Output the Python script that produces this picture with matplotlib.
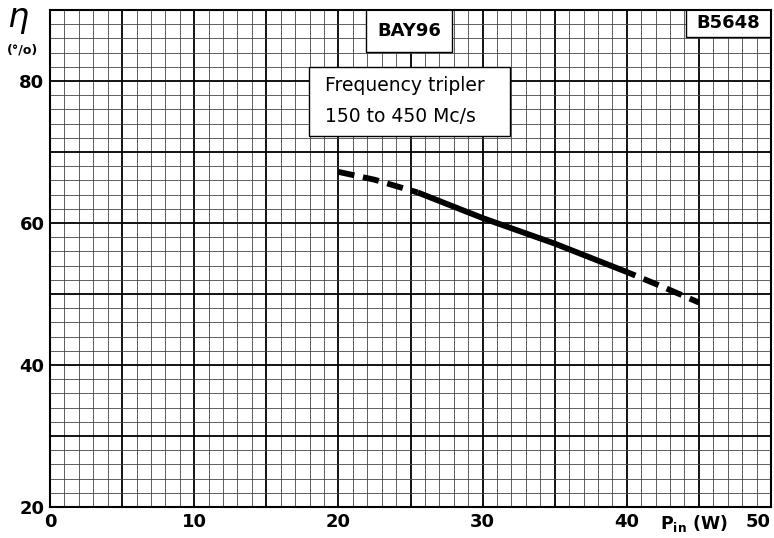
import numpy as np
import matplotlib.pyplot as plt
from matplotlib.patches import Rectangle

# efficiency vs input power
p_dash_lo = [20, 22.5, 25.5]
eta_dash_lo = [67.2, 66.1, 64.3]
p_solid = [25.5, 30, 35, 40]
eta_solid = [64.3, 60.7, 57.1, 53.1]
p_dash_hi = [40, 42.5, 45]
eta_dash_hi = [53.1, 51.0, 48.8]

x_ticks = [0, 10, 20, 30, 40, 50]
y_ticks = [20, 40, 60, 80]

fig = plt.figure(figsize=(7.74, 5.38), dpi=100)
ax = fig.add_axes([50 / 774, 1 - 507 / 538, 721 / 774, 497 / 538])
ax.set_xlim(0, 50)
ax.set_ylim(20, 90)

# graph paper grid
for xv in np.arange(0, 51, 1):
    if xv % 5 == 0:
        ax.axvline(xv, color='black', lw=1.3, zorder=1)
    else:
        ax.axvline(xv, color='#444444', lw=0.6, zorder=1)
for yv in np.arange(20, 91, 2):
    if yv % 10 == 0:
        ax.axhline(yv, color='black', lw=1.3, zorder=1)
    else:
        ax.axhline(yv, color='#444444', lw=0.6, zorder=1)

# text boxes on top of the grid
ax.add_patch(Rectangle((21.9, 84.1), 6.0, 6.0, facecolor='white', edgecolor='black', lw=1.0, zorder=2))
ax.text(24.9, 87.1, 'BAY96', ha='center', va='center', fontsize=13, fontweight='bold', zorder=3)
ax.add_patch(Rectangle((17.95, 72.2), 13.95, 9.8, facecolor='white', edgecolor='black', lw=1.0, zorder=2))
ax.text(19.1, 79.3, 'Frequency tripler', ha='left', va='center', fontsize=13.5, zorder=3)
ax.text(19.1, 75.0, '150 to 450 Mc/s', ha='left', va='center', fontsize=13.5, zorder=3)
ax.add_patch(Rectangle((44.1, 86.2), 6.0, 3.9, facecolor='white', edgecolor='black', lw=1.0, zorder=2))
ax.text(47.05, 88.1, 'B5648', ha='center', va='center', fontsize=13, fontweight='bold', zorder=3)

# curve
ax.plot(p_dash_lo, eta_dash_lo, color='black', lw=4.2, ls=(0, (2.8, 1.5)), dash_capstyle='butt', zorder=4)
ax.plot(p_solid, eta_solid, color='black', lw=4.2, solid_capstyle='butt', zorder=4)
ax.plot(p_dash_hi, eta_dash_hi, color='black', lw=4.2, ls=(1.2, (2.8, 1.5)), dash_capstyle='butt', zorder=4)

for s in ax.spines.values():
    s.set_linewidth(1.5)

ax.set_xticks(x_ticks)
ax.set_yticks(y_ticks)
ax.set_xticklabels([str(v) for v in x_ticks], fontsize=13, fontweight='bold')
ax.set_yticklabels([str(v) for v in y_ticks], fontsize=13, fontweight='bold')
ax.tick_params(length=0, pad=4)
ax.get_xticklabels()[-1].set_horizontalalignment('right')

fig.text(18 / 774, 1 - 20 / 538, r'$\eta$', fontsize=24, ha='center', va='center')
fig.text(22 / 774, 1 - 50 / 538, '(°/o)', fontsize=9, fontweight='bold', ha='center', va='center')
fig.text(694 / 774, 1 - 523 / 538, r'P$_{\mathregular{in}}$ (W)', fontsize=12.5, fontweight='bold', ha='center', va='center')

fig.savefig('out.png', dpi=100)
